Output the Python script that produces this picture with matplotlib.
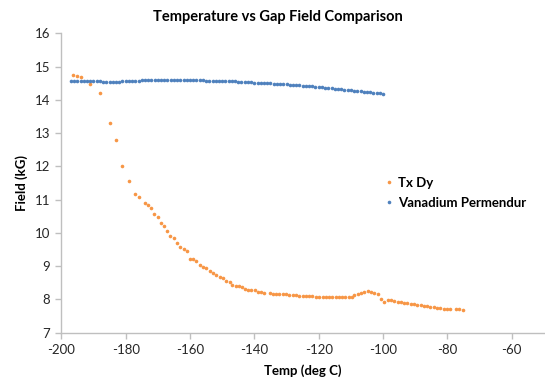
import matplotlib
matplotlib.use("Agg")
import matplotlib.pyplot as plt

# Tx Dy readings (deg C, kG)
txdy_temp = [-196.3, -195.0, -194.0, -191.0, -188.0, -185.0, -183.0, -181.1, -178.9, -177.0,
             -175.9, -174.0, -173.0, -172.1, -171.2, -170.0, -169.1, -168.0, -167.0, -166.1,
             -165.0, -164.0, -163.1, -162.0, -161.0, -160.1, -159.1, -158.0, -157.0, -156.0,
             -154.9, -153.9, -152.9, -151.8, -150.8, -149.8, -148.7, -147.7, -146.8, -145.8,
             -144.8, -143.9, -142.9, -141.9, -140.9, -139.9, -139.0, -138.0, -137.0,
             -135.1, -134.2, -133.2, -132.2, -131.2, -130.2, -129.1, -128.1, -127.1, -126.1,
             -125.0, -124.0, -123.0, -122.0, -120.9, -119.9, -118.8, -117.8, -116.8, -115.8,
             -114.7, -113.7, -112.7, -111.7, -110.6, -109.6, -108.9, -107.9, -106.8, -105.8,
             -104.8, -103.7, -102.7, -101.7, -100.6, -99.6, -98.6, -97.5, -96.5, -95.5,
             -94.5, -93.5, -92.4, -91.4, -90.4, -89.4, -88.3, -87.3, -86.3, -85.3,
             -84.2, -83.2, -82.2, -81.2, -80.2, -79.2,
             -77.4, -76.4, -75.3]
txdy_field = [14.76, 14.71, 14.70, 14.49, 14.20, 13.31, 12.79, 12.00, 11.55, 11.16,
              11.07, 10.90, 10.85, 10.74, 10.58, 10.47, 10.29, 10.22, 10.05, 9.91,
              9.86, 9.71, 9.58, 9.51, 9.45, 9.22, 9.22, 9.15, 9.05, 8.99,
              8.94, 8.86, 8.79, 8.75, 8.69, 8.64, 8.57, 8.52, 8.45, 8.41,
              8.40, 8.36, 8.31, 8.27, 8.27, 8.27, 8.23, 8.22, 8.20,
              8.18, 8.17, 8.17, 8.16, 8.15, 8.15, 8.14, 8.13, 8.12, 8.11,
              8.10, 8.10, 8.10, 8.09, 8.08, 8.08, 8.07, 8.07, 8.07, 8.07,
              8.07, 8.07, 8.07, 8.07, 8.07, 8.08, 8.14, 8.16, 8.19, 8.22,
              8.24, 8.22, 8.20, 8.16, 8.01, 7.93, 7.99, 7.97, 7.95, 7.93,
              7.92, 7.90, 7.89, 7.87, 7.86, 7.84, 7.83, 7.81, 7.79, 7.78,
              7.76, 7.75, 7.73, 7.72, 7.71, 7.71,
              7.70, 7.71, 7.69]

# Vanadium Permendur readings, one per degree from -197 to -100
vp_temp = list(range(-197, -99))
vp_field = ([14.57] * 10 + [14.55] * 6 + [14.57] * 6 + [14.59] * 20 + [14.57] * 8 +
            [14.56, 14.56, 14.55, 14.55, 14.54, 14.53, 14.53,
             14.52, 14.52, 14.51, 14.51, 14.50, 14.50, 14.49, 14.49, 14.48, 14.47,
             14.47, 14.46, 14.45, 14.44, 14.44, 14.43, 14.42, 14.41, 14.41, 14.40,
             14.39, 14.38, 14.37, 14.36, 14.35, 14.34, 14.33, 14.32, 14.31, 14.30,
             14.29, 14.28, 14.27, 14.26, 14.25, 14.24, 14.23, 14.22, 14.21, 14.20,
             14.18])

plt.rcParams['font.family'] = ['Lato', 'DejaVu Sans']
plt.rcParams['axes.unicode_minus'] = False

fig = plt.figure(figsize=(5.45, 3.78), dpi=100)
ax = fig.add_axes([0.1125, 0.1198, 0.8855, 0.7916])

ax.plot(txdy_temp, txdy_field, 'o', ms=2.6, color='#F79646', mec='none', label='Tx Dy')
ax.plot(vp_temp, vp_field, 'o', ms=2.6, color='#4F81BD', mec='none', label='Vanadium Permendur')

ax.set_xlim(-200, -50)
ax.set_ylim(7, 16)
ax.set_xticks(range(-200, -59, 20))
ax.set_yticks(range(7, 17))

for side in ['top', 'right']:
    ax.spines[side].set_visible(False)
for side in ['left', 'bottom']:
    ax.spines[side].set_color('#BFBFBF')
    ax.spines[side].set_linewidth(1.0)
ax.tick_params(length=4, width=1.0, color='#BFBFBF', labelsize=9.5, labelcolor='#262626', pad=4)

ax.set_xlabel('Temp (deg C)', fontsize=9.5, fontweight='bold', labelpad=6)
ax.set_ylabel('Field (kG)', fontsize=9.5, fontweight='bold', labelpad=5)
fig.text(0.51, 0.955, 'Temperature vs Gap Field Comparison', ha='center', va='center',
         fontsize=10.5, fontweight='bold')

ax.legend(loc='upper left', bbox_to_anchor=(0.64, 0.56), frameon=False,
          prop={'weight': 'bold', 'size': 9.5}, handletextpad=0.2, markerscale=1.0,
          handlelength=1.0, labelspacing=0.6)

fig.savefig('out.png', dpi=100)
